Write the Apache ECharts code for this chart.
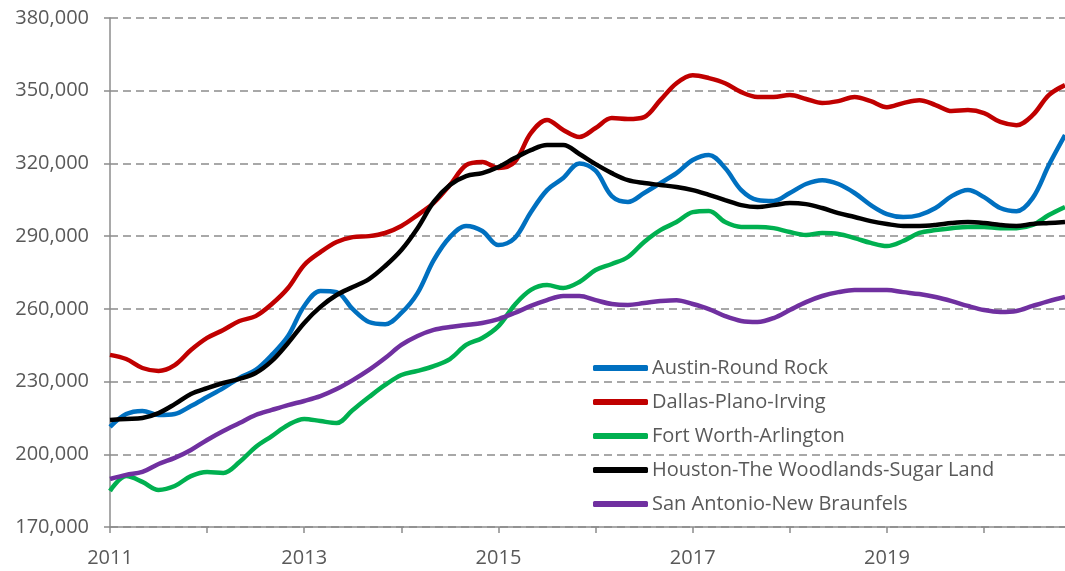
<!DOCTYPE html>
<html>
<head>
<meta charset="utf-8">
<script src="https://cdn.jsdelivr.net/npm/echarts@6/dist/echarts.min.js"></script>
<style>
  html, body { margin: 0; padding: 0; background: #fff; }
  #chart { width: 1065px; height: 571px; }
</style>
</head>
<body>
<div id="chart"></div>
<script>
// every second month, Jan 2011 .. Nov 2020
const months = [
  '2011-01','2011-03','2011-05','2011-07','2011-09','2011-11',
  '2012-01','2012-03','2012-05','2012-07','2012-09','2012-11',
  '2013-01','2013-03','2013-05','2013-07','2013-09','2013-11',
  '2014-01','2014-03','2014-05','2014-07','2014-09','2014-11',
  '2015-01','2015-03','2015-05','2015-07','2015-09','2015-11',
  '2016-01','2016-03','2016-05','2016-07','2016-09','2016-11',
  '2017-01','2017-03','2017-05','2017-07','2017-09','2017-11',
  '2018-01','2018-03','2018-05','2018-07','2018-09','2018-11',
  '2019-01','2019-03','2019-05','2019-07','2019-09','2019-11',
  '2020-01','2020-03','2020-05','2020-07','2020-09','2020-11'
];

const austin = [
  211.3, 216.6, 217.9, 216.2, 216.6, 219.9,
  223.6, 227.3, 231.5, 234.8, 241.0, 248.8,
  261.2, 267.4, 266.9, 259.9, 254.6, 253.7,
  258.3, 266.5, 280.1, 289.6, 294.2, 292.1,
  286.3, 289.2, 299.9, 309.0, 314.0, 320.0,
  317.0, 306.5, 304.1, 307.8, 311.9, 316.0,
  321.4, 323.5, 318.1, 309.0, 304.9, 304.5,
  307.8, 311.5, 313.1, 311.5, 307.8, 302.8,
  299.1, 297.9, 298.7, 301.6, 306.5, 309.0,
  306.1, 301.6, 300.3, 305.7, 319.3, 331.7
];
const dallas = [
  241.0, 239.3, 235.6, 234.4, 236.8, 243.0,
  248.0, 251.3, 255.0, 257.0, 262.0, 268.6,
  278.1, 283.4, 287.6, 289.6, 290.0, 291.3,
  294.2, 298.7, 303.7, 311.1, 319.3, 320.6,
  318.1, 320.6, 332.5, 337.9, 333.8, 330.9,
  334.6, 338.7, 338.3, 339.1, 346.1, 353.1,
  356.4, 355.2, 353.1, 349.4, 347.4, 347.4,
  348.2, 346.6, 344.9, 345.7, 347.4, 345.7,
  343.2, 344.9, 346.1, 344.1, 341.6, 342.0,
  340.8, 337.1, 335.8, 339.9, 348.2, 352.3
];
const fortWorth = [
  184.9, 191.0, 188.6, 185.3, 186.9, 191.0,
  192.7, 192.3, 196.8, 203.0, 207.5, 212.1,
  214.6, 213.7, 212.9, 218.3, 223.6, 228.6,
  232.7, 234.4, 236.4, 239.3, 245.1, 248.0,
  252.9, 261.6, 267.8, 269.8, 268.6, 271.1,
  276.0, 278.5, 281.4, 287.6, 292.5, 295.8,
  299.9, 300.4, 295.8, 293.8, 293.8, 293.3,
  291.7, 290.5, 291.3, 290.9, 289.2, 287.2,
  285.9, 288.0, 291.3, 292.5, 293.3, 293.8,
  293.8, 293.3, 293.3, 294.6, 298.7, 302.0
];
const houston = [
  214.1, 214.6, 215.0, 217.0, 220.7, 224.9,
  227.3, 229.4, 231.1, 233.5, 238.5, 245.9,
  254.2, 260.8, 265.7, 269.0, 272.3, 277.7,
  284.3, 293.3, 304.1, 311.1, 314.8, 316.0,
  318.5, 322.2, 325.5, 327.6, 327.6, 323.9,
  319.7, 316.0, 313.1, 311.9, 311.1, 310.3,
  309.0, 307.0, 304.9, 302.8, 302.0, 302.8,
  303.7, 303.2, 301.6, 299.5, 297.9, 296.2,
  295.0, 294.2, 294.2, 294.6, 295.4, 295.8,
  295.4, 294.6, 294.2, 295.0, 295.4, 295.8
];
const sanAntonio = [
  189.8, 191.5, 192.7, 196.0, 198.5, 201.8,
  205.9, 209.6, 212.9, 216.2, 218.3, 220.3,
  222.0, 224.0, 226.9, 230.6, 234.8, 239.7,
  245.1, 248.8, 251.3, 252.5, 253.3, 254.2,
  255.8, 258.3, 261.2, 263.6, 265.3, 265.3,
  263.6, 262.0, 261.6, 262.4, 263.2, 263.6,
  262.0, 259.9, 257.0, 255.0, 254.6, 256.2,
  259.5, 262.8, 265.3, 266.9, 267.8, 267.8,
  267.8, 266.9, 266.1, 264.9, 263.2, 261.2,
  259.5, 258.7, 259.1, 261.2, 263.2, 264.9
];

const seriesNames = [
  'Austin-Round Rock',
  'Dallas-Plano-Irving',
  'Fort Worth-Arlington',
  'Houston-The Woodlands-Sugar Land',
  'San Antonio-New Braunfels'
];
const seriesValues = [austin, dallas, fortWorth, houston, sanAntonio];
const colors = ['#0070C0', '#C00000', '#00B050', '#000000', '#7030A0'];

const yearTicks = [2011, 2012, 2013, 2014, 2015, 2016, 2017, 2018, 2019, 2020];
const yearLabels = [2011, 2013, 2015, 2017, 2019];

const toYear = (m) => {
  const [y, mo] = m.split('-').map(Number);
  return y + (mo - 1) / 12;
};

const chart = echarts.init(document.getElementById('chart'));

const fontFamily = '"Open Sans", "Liberation Sans", sans-serif';
const labelColor = '#595959';
const axisColor = '#8c8c8c';

chart.setOption({
  animation: false,
  color: colors,
  grid: { left: 110, right: 0, top: 18, bottom: 44 },
  legend: {
    orient: 'vertical',
    left: 593,
    top: 357,
    padding: 0,
    itemWidth: 55,
    itemHeight: 6,
    itemGap: 12,
    icon: 'roundRect',
    textStyle: { color: labelColor, fontSize: 20, lineHeight: 22, fontFamily: fontFamily, padding: [0, 0, 0, -1] },
    data: seriesNames
  },
  xAxis: {
    type: 'value',
    min: 2011,
    max: toYear(months[months.length - 1]),
    interval: 1,
    axisLine: { show: true, lineStyle: { color: axisColor, width: 1.5 } },
    axisTick: { show: true, length: 6, lineStyle: { color: axisColor, width: 1.5 }, customValues: yearTicks },
    axisLabel: {
      color: labelColor, fontSize: 20, fontFamily: fontFamily, margin: 21,
      customValues: yearLabels,
      formatter: (v) => String(v)
    },
    splitLine: { show: false }
  },
  yAxis: {
    type: 'value',
    min: 170000,
    max: 380000,
    interval: 30000,
    axisLine: { show: true, lineStyle: { color: axisColor, width: 1.5 } },
    axisTick: { show: true, length: 6, lineStyle: { color: axisColor, width: 1.5 } },
    axisLabel: {
      color: labelColor, fontSize: 20, fontFamily: fontFamily, margin: 21,
      formatter: (v) => v.toLocaleString('en-US')
    },
    splitLine: { show: true, lineStyle: { color: axisColor, width: 1.5, type: [8, 5] } }
  },
  series: seriesNames.map((name, i) => ({
    name: name,
    type: 'line',
    smooth: 0.35,
    symbol: 'none',
    lineStyle: { width: 4.5, color: colors[i] },
    itemStyle: { color: colors[i] },
    data: seriesValues[i].map((v, j) => [toYear(months[j]), v * 1000])
  }))
});
</script>
</body>
</html>
